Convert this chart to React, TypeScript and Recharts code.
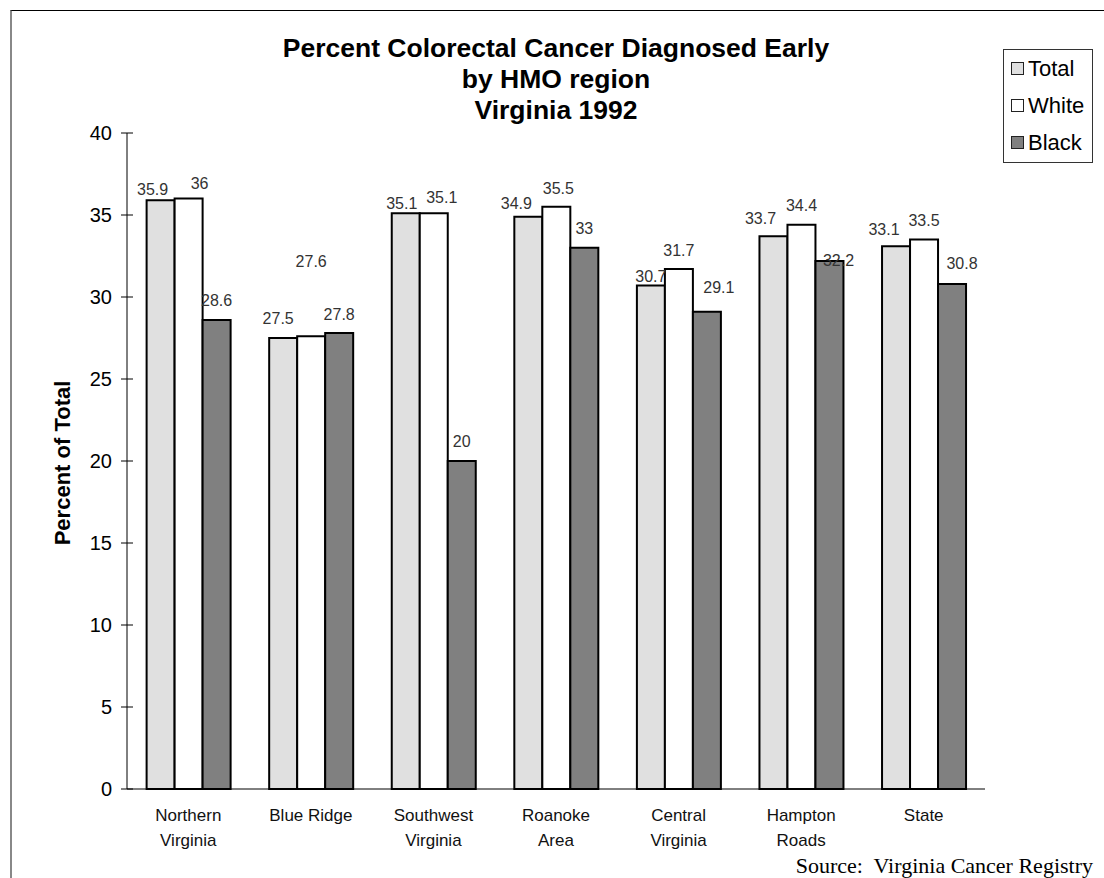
import React from 'react';
import { BarChart, Bar, XAxis, YAxis, LabelList, Legend } from 'recharts';

// Percent of colorectal cancers diagnosed at an early stage, by HMO region
const regions = [
  'Northern\nVirginia',
  'Blue Ridge',
  'Southwest\nVirginia',
  'Roanoke\nArea',
  'Central\nVirginia',
  'Hampton\nRoads',
  'State',
];
const totalPct = [35.9, 27.5, 35.1, 34.9, 30.7, 33.7, 33.1];
const whitePct = [36, 27.6, 35.1, 35.5, 31.7, 34.4, 33.5];
const blackPct = [28.6, 27.8, 20, 33, 29.1, 32.2, 30.8];

const yTicks = [0, 5, 10, 15, 20, 25, 30, 35, 40];
const regionEdges = [0, 1, 2, 3, 4, 5, 6, 7];

const data = regions.map((region, i) => ({
  region,
  total: totalPct[i],
  white: whitePct[i],
  black: blackPct[i],
  pos: i + 0.5,
}));

const series = [
  { key: 'total', name: 'Total', fill: '#e0e0e0' },
  { key: 'white', name: 'White', fill: '#ffffff' },
  { key: 'black', name: 'Black', fill: '#808080' },
];

// labels get pushed around a bit so neighbours don't collide
const labelShift: Record<string, { dx: number; gap: number }[]> = {
  total: [
    { dx: -8, gap: 5 }, { dx: -5, gap: 14 }, { dx: -4, gap: 4 }, { dx: -12, gap: 8 },
    { dx: 0, gap: 4 }, { dx: -13, gap: 12 }, { dx: -12, gap: 11 },
  ],
  white: [
    { dx: 11, gap: 10 }, { dx: 0, gap: 69 }, { dx: 8, gap: 10 }, { dx: 2, gap: 13 },
    { dx: 0, gap: 13 }, { dx: 0, gap: 14 }, { dx: 0, gap: 14 },
  ],
  black: [
    { dx: 0, gap: 14 }, { dx: 0, gap: 13 }, { dx: 0, gap: 14 }, { dx: 0, gap: 14 },
    { dx: 12, gap: 19 }, { dx: 9, gap: -5 }, { dx: 10, gap: 15 },
  ],
};

const labelFont = 'Liberation Sans, Arial, sans-serif';

const valueLabel = (key: string) => (props: any) => {
  const { x, y, width, value, index } = props;
  const s = labelShift[key][index] || { dx: 0, gap: 13 };
  return (
    <text
      x={x + width / 2 + s.dx}
      y={y - s.gap}
      textAnchor="middle"
      fontSize={16}
      fontFamily={labelFont}
      fill="#333"
    >
      {value}
    </text>
  );
};

const YTick = (props: any) => {
  const { x, y, payload } = props;
  return (
    <g>
      <line x1={x - 6} x2={x + 6} y1={y} y2={y} stroke="#000" />
      <text x={x - 15} y={y + 7} textAnchor="end" fontSize={20} fontFamily={labelFont} fill="#000">
        {payload.value}
      </text>
    </g>
  );
};

const EdgeTick = (props: any) => {
  const { x, y } = props;
  return <line x1={x} x2={x} y1={y - 6} y2={y + 6} stroke="#000" />;
};

const RegionTick = (props: any) => {
  const { x, y, payload } = props;
  const lines = String(payload.value).split('\n');
  return (
    <text textAnchor="middle" fontSize={17} fontFamily={labelFont} fill="#111">
      {lines.map((ln, i) => (
        <tspan key={i} x={x} y={y + 32 + i * 25}>
          {ln}
        </tspan>
      ))}
    </text>
  );
};

const LegendBox = () => (
  <div
    style={{
      border: '1.5px solid #333',
      background: '#fff',
      padding: '0 0 1px 7px',
      fontFamily: labelFont,
      fontSize: 22,
      color: '#000',
    }}
  >
    {series.map((s) => (
      <div key={s.key} style={{ display: 'flex', alignItems: 'center', height: 37 }}>
        <span
          style={{
            display: 'inline-block',
            width: 11,
            height: 11,
            border: '1.5px solid #222',
            background: s.fill,
            marginRight: 4,
          }}
        />
        {s.name}
      </div>
    ))}
  </div>
);

export default function App() {
  return (
    <div
      style={{
        position: 'absolute',
        left: 0,
        top: 0,
        width: 1104,
        height: 878,
        overflow: 'hidden',
        background: '#fff',
      }}
    >
      <div
        style={{
          position: 'absolute',
          left: 10,
          top: 10,
          width: 1110,
          height: 880,
          borderTop: '1.5px solid #000',
          borderLeft: '2px solid #888',
        }}
      />
      <div
        style={{
          position: 'absolute',
          left: 0,
          width: 1112,
          top: 33,
          textAlign: 'center',
          fontFamily: labelFont,
          fontWeight: 'bold',
          fontSize: 26.5,
          lineHeight: '31px',
        }}
      >
        <div>Percent Colorectal Cancer Diagnosed Early</div>
        <div>by HMO region</div>
        <div>Virginia 1992</div>
      </div>
      <BarChart
        width={1104}
        height={878}
        data={data}
        margin={{ top: 133, right: 119, bottom: 59, left: 67 }}
        barCategoryGap="16%"
        barGap={0}
      >
        <XAxis
          xAxisId="edges"
          type="number"
          dataKey="pos"
          domain={[0, 7]}
          ticks={regionEdges}
          height={0}
          axisLine={false}
          tickLine={false}
          tickSize={0}
          tickMargin={0}
          tick={<EdgeTick />}
          interval={0}
        />
        <XAxis
          dataKey="region"
          height={30}
          axisLine={{ stroke: '#000' }}
          tickLine={false}
          tickSize={0}
          tickMargin={0}
          tick={<RegionTick />}
          interval={0}
        />
        <YAxis
          domain={[0, 40]}
          ticks={yTicks}
          width={60}
          axisLine={{ stroke: '#000' }}
          tickLine={false}
          tickSize={0}
          tickMargin={0}
          tick={<YTick />}
          interval={0}
          label={{
            value: 'Percent of Total',
            angle: -90,
            position: 'insideLeft',
            dx: -10,
            dy: 2,
            style: {
              fontFamily: labelFont,
              fontWeight: 'bold',
              fontSize: 22,
              fill: '#000',
              textAnchor: 'middle',
            },
          }}
        />
        <Legend
          layout="vertical"
          align="center"
          verticalAlign="middle"
          content={<LegendBox />}
          wrapperStyle={{ left: 1003, top: 49, width: 90, height: 'auto' }}
        />
        {series.map((s) => (
          <Bar
            key={s.key}
            dataKey={s.key}
            name={s.name}
            fill={s.fill}
            stroke="#000"
            strokeWidth={2}
            isAnimationActive={false}
          >
            <LabelList dataKey={s.key} content={valueLabel(s.key)} />
          </Bar>
        ))}
      </BarChart>
      <div
        style={{
          position: 'absolute',
          right: 11,
          top: 853,
          fontFamily: 'Liberation Serif, Times New Roman, serif',
          fontSize: 22,
          color: '#000',
        }}
      >
        Source:&nbsp; Virginia Cancer Registry
      </div>
    </div>
  );
}
